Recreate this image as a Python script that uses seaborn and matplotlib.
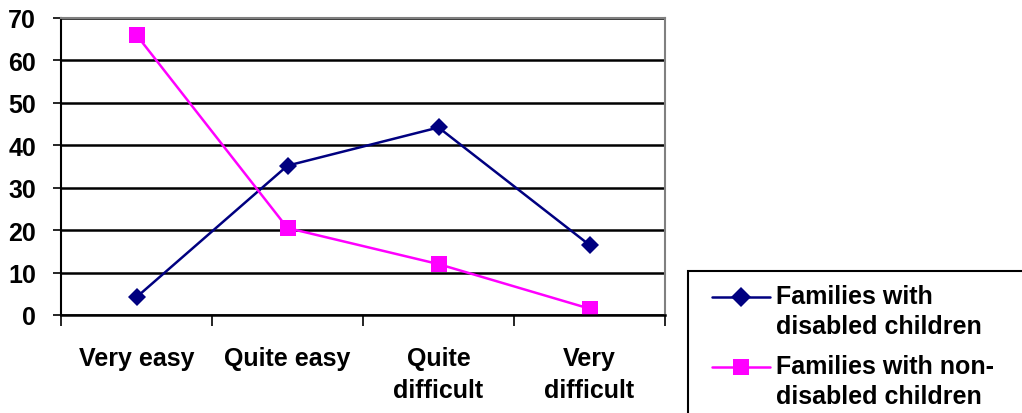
import matplotlib
matplotlib.use("Agg")
import matplotlib.pyplot as plt
import matplotlib.patches as mpatches
import seaborn as sns
import pandas as pd
import numpy as np

categories = ["Very easy", "Quite easy", "Quite\ndifficult", "Very\ndifficult"]
disabled = [4.2, 35.2, 44.2, 16.5]
non_disabled = [66.0, 20.5, 12.0, 1.5]
series_names = ["Families with\ndisabled children", "Families with non-\ndisabled children"]

sns.set_theme(style="white")
plt.rcParams['font.family'] = ['Liberation Sans', 'DejaVu Sans']
plt.rcParams['font.weight'] = 'bold'
plt.rcParams['text.color'] = 'black'
plt.rcParams['xtick.color'] = 'black'
plt.rcParams['ytick.color'] = 'black'

df = pd.DataFrame({
    "pos": list(range(len(categories))) * 2,
    "value": disabled + non_disabled,
    "series": [series_names[0]] * 4 + [series_names[1]] * 4,
})

fig = plt.figure(figsize=(10.22, 4.14), dpi=100)
ax = fig.add_axes([61/1022, (414-316)/414, (665-61)/1022, (316-19)/414])

sns.lineplot(data=df, x="pos", y="value", hue="series", style="series",
             palette=["#000080", "#FF00FF"], markers=["D", "s"], dashes=False,
             markersize=9, linewidth=1.8, markeredgewidth=0, ax=ax, legend=True)
lines = ax.get_lines()
lines[0].set_markersize(9)
lines[1].set_markersize(11)

FS = 18
ax.set_xlim(-0.5, 3.5)
ax.set_ylim(0, 70)
ax.set_yticks(range(0, 71, 10))
ax.yaxis.grid(True, color="black", linewidth=1.8)
ax.set_axisbelow(True)
ax.set_xticks([-0.5, 0.5, 1.5, 2.5, 3.5])
ax.set_xticklabels([])
ax.set_xticks(range(4), minor=True)
ax.set_xticklabels(categories, minor=True, fontsize=FS, fontweight="bold", linespacing=1.45)
ax.tick_params(axis="x", which="major", length=8, width=1.2, color="black", direction="out", bottom=True)
ax.tick_params(axis="x", which="minor", length=0, pad=22, labelcolor="black")
ax.tick_params(axis="y", length=6, width=1.2, color="black", direction="out", left=True,
               labelsize=FS, pad=12, labelcolor="black")
for lab in ax.get_yticklabels():
    lab.set_fontweight("bold")
ax.set_xlabel("")
ax.set_ylabel("")

ax.spines["left"].set_color("black")
ax.spines["left"].set_linewidth(1.5)
ax.spines["bottom"].set_color("black")
ax.spines["bottom"].set_linewidth(1.8)
ax.spines["top"].set_color("#808080")
ax.spines["right"].set_color("#808080")
ax.spines["top"].set_linewidth(1.5)
ax.spines["right"].set_linewidth(1.5)

# legend box (extends past the figure edge as in the reference)
box = mpatches.Rectangle((688/1022, -0.1), 0.5, (414-272)/414 + 0.1,
                         transform=fig.transFigure, facecolor="white",
                         edgecolor="black", linewidth=1.5)
fig.add_artist(box)

handles, labels = ax.get_legend_handles_labels()
ax.get_legend().remove()
leg = fig.legend(handles, labels, loc="upper left",
                 bbox_to_anchor=(712/1022, (414-285)/414),
                 frameon=False,
                 prop={"size": FS, "weight": "bold"}, handlelength=2.3,
                 borderpad=0, labelspacing=0.62, handletextpad=0.25,
                 borderaxespad=0)
for t in leg.get_texts():
    t.set_linespacing(1.32)
    t.set_color("black")
# align the legend handles with the first text line
for h, ms in zip(leg.legend_handles, [10, 11]):
    h.set_ydata(np.asarray(h.get_ydata()) + 10.5)
    h.set_markersize(ms)
    h.set_linewidth(1.8)

fig.savefig("out.png", dpi=100)
